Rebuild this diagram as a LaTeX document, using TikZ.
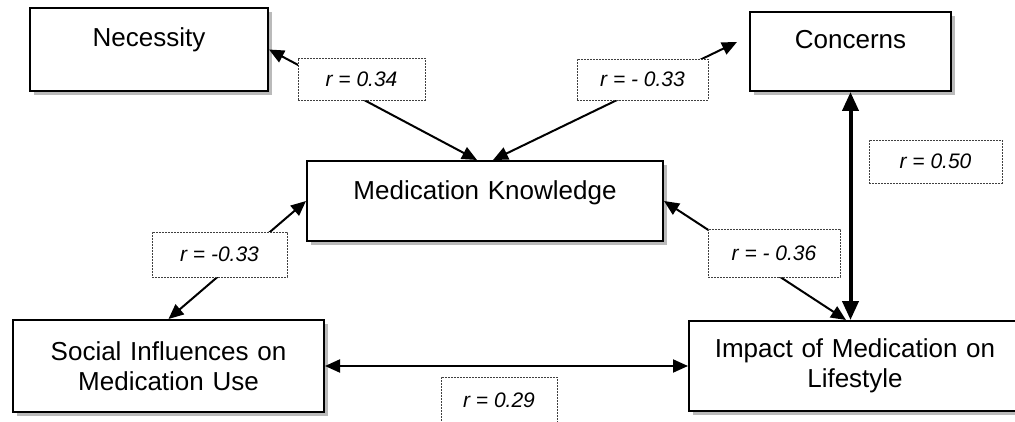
\documentclass[tikz,border=0pt]{standalone}
\usepackage{fontspec}
\setmainfont{Liberation Sans}
\usetikzlibrary{arrows.meta,shadows}
\begin{document}
\begin{tikzpicture}[x=1pt,y=-1pt,thick,
  box/.style={draw,line width=2pt,fill=white,inner sep=0pt,align=center,
    font=\fontsize{26}{30}\selectfont,
    drop shadow={shadow xshift=4pt,shadow yshift=-4pt,fill=black!27,opacity=1}},
  rlabel/.style={draw=black!75,dash pattern=on 2pt off 1pt,line width=0.8pt,fill=white,
    inner sep=0pt,font=\fontsize{21}{24}\selectfont\itshape},
  link/.style={line width=2pt,{Triangle[length=15pt,width=13pt]}-{Triangle[length=15pt,width=13pt]}},
  biglink/.style={line width=4pt,{Triangle[length=19pt,width=16pt]}-{Triangle[length=19pt,width=16pt]}}]
  \useasboundingbox (0,0) rectangle (1015,422);
  % boxes
  \node[box,text width=238pt,minimum height=83pt,at={(149,49.5)}] (nec) {Necessity\\[-14pt]\strut};
  \node[box,text width=201pt,minimum height=79pt,at={(850.5,51.5)}] (conc) {Concerns\\[-14pt]\strut};
  \node[box,text width=356pt,minimum height=80pt,at={(485,201)}] (mk) {Medication Knowledge\\[-18pt]\strut};
  \node[box,text width=311pt,minimum height=92pt,at={(168.5,366)}] (soc) {Social Influences on\\Medication Use};
  \node[box,text width=332pt,minimum height=90pt,at={(855,366)}] (imp) {Impact of Medication on\\Lifestyle};
  \coordinate (conc-tip) at (737,42);
  % links
  \draw[link] (nec.east) -- ([xshift=-8pt]mk.north);
  \draw[link] ([xshift=8pt]mk.north) -- (conc-tip);
  \draw[link] (soc.north) -- (mk.west);
  \draw[link] (mk.east) -- ([xshift=-9pt]imp.north);
  \draw[link] (soc.east) -- (imp.west);
  \draw[biglink] (conc.south) -- (conc.south |- imp.north);
  % labels
  \node[rlabel,minimum width=127pt,minimum height=42pt,at={(361.5,79)}] (r-nec) {r = 0.34};
  \node[rlabel,minimum width=131pt,minimum height=41pt,at={(642.5,79.5)}] (r-conc) {r = - 0.33};
  \node[rlabel,minimum width=133pt,minimum height=43pt,at={(935.5,161.5)}] (r-big) {r = 0.50};
  \node[rlabel,minimum width=135pt,minimum height=45pt,at={(219.5,254.5)}] (r-soc) {r = -0.33};
  \node[rlabel,minimum width=132pt,minimum height=48pt,at={(774,253)}] (r-imp) {r = - 0.36};
  \node[rlabel,minimum width=116pt,minimum height=47pt,at={(499,400.5)}] (r-bot) {r = 0.29};
\end{tikzpicture}
\end{document}
